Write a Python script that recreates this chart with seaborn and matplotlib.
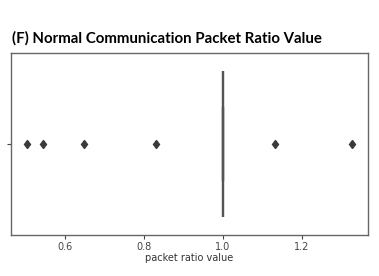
import matplotlib
matplotlib.use("Agg")
import matplotlib.pyplot as plt
import seaborn as sns
import pandas as pd

# Data: packet ratio values (most values equal 1.0, plus a few outliers)
outlier_values = [0.503, 0.544, 0.646, 0.831, 1.133, 1.327]
normal_values = [1.0] * 30
packet_ratio = outlier_values + normal_values
df = pd.DataFrame({"packet ratio value": packet_ratio})

fig = plt.figure(figsize=(3.79, 2.76), dpi=100)
ax = fig.add_axes([0.029, 0.149, 0.942, 0.659])

sns.boxplot(data=df, x="packet ratio value", ax=ax, color="#5b5b5b",
            linecolor="#555555", linewidth=1.6, width=0.8,
            flierprops=dict(marker="d", markerfacecolor="#3a3a3a",
                            markeredgecolor="#3a3a3a", markersize=4.5))

ax.set_xticks([0.6, 0.8, 1.0, 1.2])
ax.tick_params(axis="x", labelsize=7, colors="#444444", length=3, pad=2)
ax.tick_params(axis="y", length=3, colors="#444444")
ax.set_yticks([0])
ax.set_yticklabels([""])
ax.set_xlabel("packet ratio value", fontsize=7, color="#333333", labelpad=1)
for s in ax.spines.values():
    s.set_color("#666666")
    s.set_linewidth(1.0)

fig.text(12 / 379, 1 - 38 / 276, "(F) Normal Communication Packet Ratio Value",
         fontsize=10.8, fontweight="bold", family="Lato", va="center", ha="left")

fig.savefig("out.png", dpi=100)
